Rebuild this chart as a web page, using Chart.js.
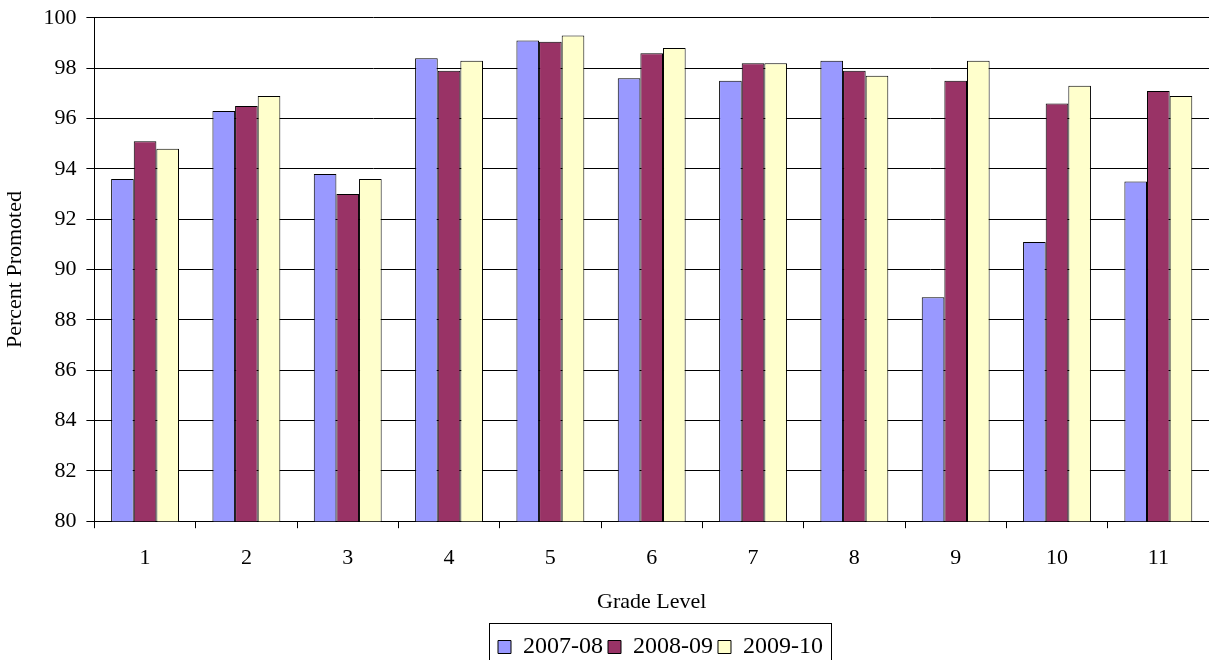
<!DOCTYPE html>
<html>
<head>
<meta charset="utf-8">
<script src="https://cdn.jsdelivr.net/npm/chart.js@4.4.1/dist/chart.umd.min.js"></script>
<style>
  html, body { margin: 0; padding: 0; background: #fff; }
  #wrap { width: 1209px; height: 660px; }
</style>
</head>
<body>
<div id="wrap"><canvas id="promoChart"></canvas></div>
<script>
var grades = ['1', '2', '3', '4', '5', '6', '7', '8', '9', '10', '11'];
var y2007 = [93.6, 96.3, 93.8, 98.4, 99.1, 97.6, 97.5, 98.3, 88.9, 91.1, 93.5];
var y2008 = [95.1, 96.5, 93.0, 97.9, 99.05, 98.6, 98.2, 97.9, 97.5, 96.6, 97.1];
var y2009 = [94.8, 96.9, 93.6, 98.3, 99.3, 98.8, 98.2, 97.7, 98.3, 97.3, 96.9];

var serif = "'Liberation Serif', 'Times New Roman', serif";

// legend sits centred under the plot area and gets a thin frame, like the original
var legendFrame = {
    id: 'legendFrame',
    afterLayout: function(chart) {
        chart.legend.left = 112;
    },
    afterDraw: function(chart) {
        var boxes = chart.legend.legendHitBoxes;
        if (!boxes || !boxes.length) return;
        var left = Infinity, right = -Infinity, top = Infinity;
        boxes.forEach(function(b) {
            left = Math.min(left, b.left);
            right = Math.max(right, b.left + b.width);
            top = Math.min(top, b.top);
        });
        var c = chart.ctx;
        c.save();
        c.strokeStyle = '#000';
        c.lineWidth = 1;
        c.strokeRect(Math.round(left - 9) + 0.5, Math.round(top - 12) + 0.5,
                     Math.round(right - left + 17), chart.height);
        c.restore();
    }
};

var ctx = document.getElementById('promoChart').getContext('2d');
var chart = new Chart(ctx, {
    type: 'bar',
    data: {
        labels: grades,
        datasets: [{
            label: '2007-08',
            data: y2007,
            backgroundColor: '#9999FF',
            borderColor: '#000',
            borderWidth: 1
        }, {
            label: '2008-09',
            data: y2008,
            backgroundColor: '#993366',
            borderColor: '#000',
            borderWidth: 1
        }, {
            label: '2009-10',
            data: y2009,
            backgroundColor: '#FFFFCC',
            borderColor: '#000',
            borderWidth: 1
        }]
    },
    options: {
        responsive: true,
        maintainAspectRatio: false,
        animation: false,
        datasets: {
            bar: { barPercentage: 1.0, categoryPercentage: 0.67 }
        },
        layout: { padding: { left: 0, right: 0, top: 0, bottom: -9 } },
        plugins: {
            legend: {
                position: 'bottom',
                labels: {
                    color: '#000',
                    font: { family: serif, size: 24 },
                    boxWidth: 13,
                    boxHeight: 13,
                    padding: 5
                }
            },
            tooltip: { enabled: false }
        },
        scales: {
            x: {
                grid: {
                    display: true,
                    drawOnChartArea: false,
                    drawTicks: true,
                    tickLength: 7,
                    color: '#000',
                    offset: true
                },
                border: { color: '#000', width: 1 },
                ticks: {
                    color: '#000',
                    font: { family: serif, size: 22 },
                    padding: 17,
                    maxRotation: 0
                },
                title: {
                    display: true,
                    text: 'Grade Level',
                    color: '#000',
                    font: { family: serif, size: 22 },
                    padding: { top: 0, bottom: 15 }
                }
            },
            y: {
                min: 80,
                max: 100,
                grid: {
                    color: '#000',
                    lineWidth: 1,
                    tickLength: 8
                },
                border: { color: '#000', width: 1 },
                ticks: {
                    stepSize: 2,
                    color: '#000',
                    font: { family: serif, size: 22, lineHeight: 0.72 },
                    padding: 10
                },
                title: {
                    display: true,
                    text: 'Percent Promoted',
                    color: '#000',
                    font: { family: serif, size: 22 },
                    padding: { top: 2, bottom: 5 }
                }
            }
        }
    },
    plugins: [legendFrame]
});
</script>
</body>
</html>
